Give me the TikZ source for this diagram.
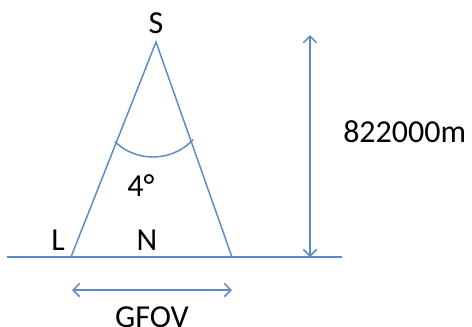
\documentclass[tikz,border=0pt]{standalone}
\usepackage{fontspec}
\setmainfont{Carlito}
\usetikzlibrary{arrows.meta}
\definecolor{lineblue}{RGB}{91,138,200}
\tikzset{
  blueline/.style={draw=lineblue, line width=1.1pt},
  dimarrow/.style={blueline, {Straight Barb[length=5pt,width=10pt]}-{Straight Barb[length=5pt,width=10pt]}},
  lbl/.style={inner sep=0pt, font=\fontsize{24}{28}\selectfont}
}
\begin{document}
\begin{tikzpicture}[x=0.75pt,y=-0.75pt]
        \useasboundingbox (0,0) rectangle (472,326);
        % points of the triangle
        \coordinate (S) at (156,42);
        \coordinate (L) at (71,257);
        \coordinate (R) at (232,257);
        \coordinate (C) at (153,102);
        \coordinate (G1) at (7,257);
        \coordinate (G2) at (342,257);
        \coordinate (H1) at (310,35);
        \coordinate (H2) at (310,257);
        \coordinate (W1) at (72,290);
        \coordinate (W2) at (232,290);

        \draw[blueline] (G1) -- (G2);
        \draw[blueline] (L) -- (S) -- (R);
        % angle arc
        \draw[blueline] (C) ++(134:55) arc[start angle=134, end angle=43, radius=55];
        \draw[dimarrow] (H1) -- (H2);
        \draw[dimarrow] (W1) -- (W2);

        \node[lbl, anchor=base] (ls) at (156,33) {S};
        \node[lbl, anchor=base] (ll) at (58,250) {L};
        \node[lbl, anchor=base] (ln) at (147,250) {N};
        \node[lbl, anchor=base] (la) at (141,196) {4°};
        \node[lbl, anchor=base west] (lh) at (343,142) {822000m};
        \node[lbl, anchor=base] (lg) at (152,327) {GFOV};
\end{tikzpicture}
\end{document}
